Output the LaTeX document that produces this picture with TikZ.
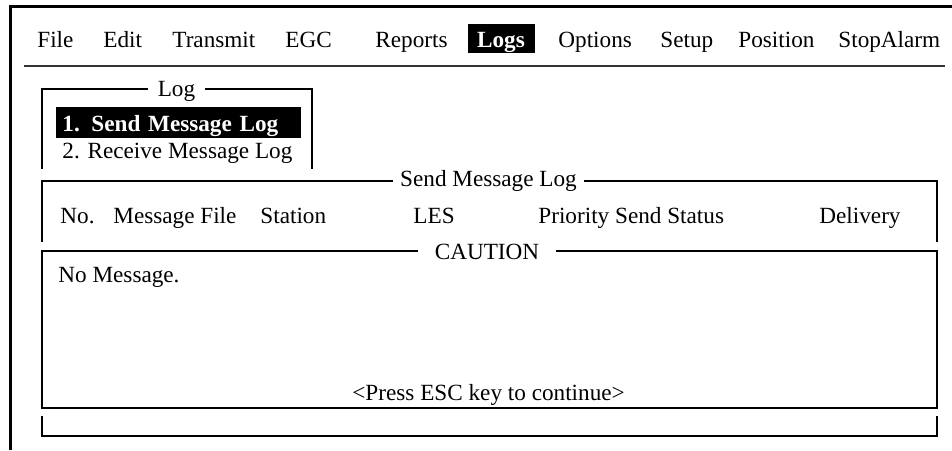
\documentclass[tikz,border=0pt]{standalone}
\usepackage{fontspec}
\setmainfont{Liberation Serif}
\tikzset{
  menuitem/.style={anchor=base west, inner sep=0pt},
  cell/.style={anchor=base west, inner sep=0pt},
  boxtitle/.style={anchor=base, fill=white, inner ysep=1pt},
  hilite/.style={fill=black, text=white, font=\bfseries, inner ysep=1pt},
  frame/.style={line width=0.65pt},
}

\begin{document}
\begin{tikzpicture}[x=0.5pt, y=-0.5pt]
\fontsize{11.6}{14}\selectfont
\useasboundingbox (0,0) rectangle (952,450);

% screen edge
\draw[line width=1.5pt] (10.5,450) -- (10.5,6.5) -- (952,6.5);

% menu bar
\foreach \x/\t in {37/File, 103/Edit, 172/Transmit, 285/EGC, 375/Reports, 558/Options, 660/Setup, 738/Position, 838/StopAlarm}
{
  \node[menuitem] (menu-\t) at (\x,47) {\t};
}
\node[hilite, anchor=base, minimum width=33.5pt, text height=10.5pt, text depth=2pt] (menu-Logs) at (501,47) {Logs};
\draw[line width=0.75pt, black!80] (24,66) -- (945,66);

% Log pull-down
\draw[frame] (42,169) -- (42,89) -- (312,89) -- (312,169);
\node[boxtitle, inner xsep=5pt] (logtitle) at (176.5,96) {Log};
\node[hilite, anchor=base west, inner xsep=3pt, text width=116.5pt, align=left, text height=11pt, text depth=2.5pt] (item1) at (56,131) {1. Send Message Log};
\node[cell] (item2) at (62,158) {2. Receive Message Log};

% Send Message Log window
\draw[frame] (42,242) -- (42,181) -- (937,181) -- (937,242);
\node[boxtitle, inner xsep=3.5pt] (sendtitle) at (488.5,186) {Send Message Log};
\foreach \x/\t [count=\i] in {60/No., 113/Message File, 260/Station, 413/LES, 538/Priority Send Status, 819/Delivery}
  \node[cell] (col\i) at (\x,223) {\t};

% caution window
\draw[frame] (42,251) rectangle (937,408);
\node[boxtitle, inner xsep=8.5pt] (cautiontitle) at (487,259) {CAUTION};
\node[cell] (nomsg) at (58,282) {No Message.};
\node[cell] (press) at (352,400) {<Press ESC key to continue>};

% bottom strip
\draw[frame] (42,416) -- (42,436) -- (937,436) -- (937,416);
\end{tikzpicture}
\end{document}
